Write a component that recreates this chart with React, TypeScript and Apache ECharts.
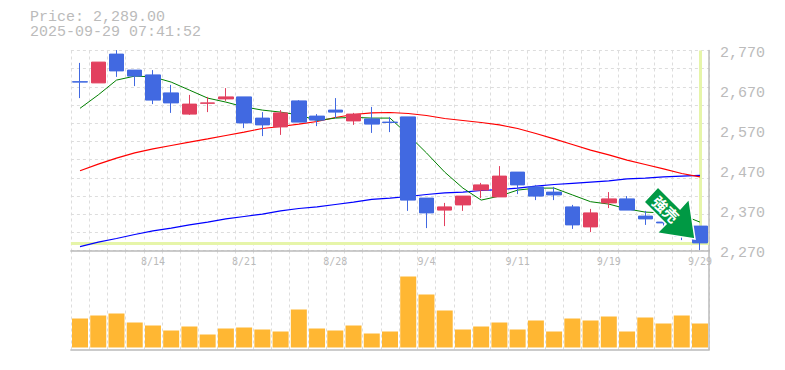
import React, { useEffect, useRef } from "react";
import * as echarts from "echarts";

const dates = ["8/7","8/8","8/12","8/13","8/14","8/15","8/18","8/19","8/20","8/21","8/22","8/25","8/26","8/27","8/28","8/29","9/1","9/2","9/3","9/4","9/5","9/8","9/9","9/10","9/11","9/12","9/16","9/17","9/18","9/19","9/22","9/24","9/25","9/26","9/29"];

// [open, close, low, high]
const candles = [
  [2692,2691,2651,2739],[2689,2741,2689,2741],[2761,2719,2704,2771],[2721,2706,2681,2721],[2709,2646,2636,2721],
  [2664,2639,2614,2684],[2611,2636,2609,2659],[2638,2639,2616,2654],[2649,2654,2644,2676],[2654,2589,2576,2654],
  [2601,2584,2556,2616],[2579,2614,2559,2621],[2644,2591,2591,2646],[2606,2596,2581,2611],[2621,2616,2601,2651],
  [2594,2611,2584,2614],[2599,2586,2564,2629],[2591,2590,2566,2604],[2604,2396,2369,2604],[2401,2364,2326,2401],
  [2371,2379,2331,2389],[2384,2406,2369,2406],[2421,2434,2401,2439],[2404,2456,2404,2481],[2466,2434,2411,2466],
  [2429,2406,2396,2434],[2416,2409,2396,2429],[2379,2334,2324,2384],[2329,2364,2316,2374],[2389,2399,2376,2416],
  [2399,2371,2371,2406],[2356,2349,2334,2369],[2341,2339,2326,2351],[2341,2306,2296,2345],[2331,2289,2271,2331],
];

const maShort = [2625.5,2659,2696,2706,2704,2691,2671,2651,2641,2629,2621,2616,2609,2595,2601,2603,2601,2601,2559,2514,2466,2426,2396,2406,2421,2426,2426,2409,2392,2386,2374,2366,2364,2359,2341];
const maMid = [2469.5,2486,2501,2514,2524,2532.5,2541,2549,2557.5,2566,2575,2580,2586,2592.5,2602.5,2610,2614,2615,2612.5,2607.5,2600,2595,2590,2584,2575,2562.5,2549,2535,2521,2509,2496,2485,2474,2462.5,2454];
const maLong = [2279.5,2291,2300,2310,2319,2326,2334,2341,2349,2355,2361,2369,2375,2379,2385,2391,2398,2401,2405,2410,2414,2416,2420,2422,2426,2431,2435,2438,2441,2444,2449,2451,2454,2456,2458];
const volumes = [29,32,34,25,22,17,21,13,19,20,18,16,38,19,17,22,14,16,71,53,37,18,21,25,18,27,16,29,27,31,16,30,24,32,24];

const priceTicks = [2270,2370,2470,2570,2670,2770];
const gridRows = ["a","b","c","d","e","f","g","h","i","j","k"];
const lastPrice = 2289;
const lastDate = "9/29";
const titleLines = ["Price: 2,289.00", "2025-09-29 07:41:52"];
const arrowLabel = "強売";

const MONO = '"Liberation Mono", monospace';
const GREY = "#bbbbbb";
const GRID = "#dddddd";

export default function App() {
  const ref = useRef<HTMLDivElement>(null);
  useEffect(() => {
    const chart = echarts.init(ref.current!, null, { renderer: "svg" });
    const gridLine = { show: true, interval: 0, lineStyle: { color: GRID, type: [3, 3], width: 1 } };
    const xBase = {
      type: "category",
      data: dates,
      boundaryGap: true,
      axisTick: { show: false },
      axisLine: { show: true, onZero: false, lineStyle: { color: GREY, width: 1.5 } },
      splitLine: gridLine,
    };
    chart.setOption({
      animation: false,
      backgroundColor: "#ffffff",
      grid: [
        { left: 70.9, width: 638.2, top: 50.5, height: 200 },
        { left: 70.9, width: 638.2, top: 250.5, height: 99 },
      ],
      xAxis: [
        {
          ...xBase,
          gridIndex: 0,
          axisLabel: {
            show: true,
            interval: (i: number) => (i - 4) % 5 === 0,
            color: GREY,
            fontFamily: '"DejaVu Sans Mono", monospace',
            fontSize: 10,
            margin: 6,
            hideOverlap: false,
            showMaxLabel: true,
          },
        },
        { ...xBase, gridIndex: 1, axisLabel: { show: false } },
      ],
      yAxis: [
        {
          type: "value",
          gridIndex: 0,
          position: "right",
          min: 2270,
          max: 2770,
          splitLine: { show: false },
          axisTick: { show: false },
          axisLine: { show: true, lineStyle: { color: GREY, width: 1.5 } },
          axisLabel: {
            color: GREY,
            fontFamily: MONO,
            fontSize: 15,
            margin: 11,
            verticalAlign: "top",
            lineHeight: 6,
            customValues: priceTicks,
            formatter: (v: number) => v.toLocaleString("en-US"),
          },
        },
        {
          type: "category",
          gridIndex: 0,
          position: "left",
          data: gridRows,
          boundaryGap: true,
          axisLine: { show: false },
          axisTick: { show: false },
          axisLabel: { show: false },
          splitLine: gridLine,
        },
        {
          type: "value",
          gridIndex: 1,
          position: "right",
          min: -2,
          max: 97,
          splitLine: { show: false },
          axisTick: { show: false },
          axisLabel: { show: false },
          axisLine: { show: true, lineStyle: { color: GREY, width: 1.5 } },
        },
      ],
      series: [
        {
          type: "line",
          data: [],
          xAxisIndex: 0,
          yAxisIndex: 0,
          z: 1,
          silent: true,
          markLine: {
            silent: true,
            z: 1,
            symbol: "none",
            label: { show: false },
            emphasis: { disabled: true },
            lineStyle: { color: "#e6f5a9", width: 3, type: "solid" },
            data: [
              [{ coord: [0, lastPrice], x: 70.9 }, { x: 709.1, coord: [34, lastPrice] }],
              [{ coord: [lastDate, 2770] }, { coord: [lastDate, lastPrice] }],
            ],
          },
        },
        { type: "line", data: maLong, xAxisIndex: 0, yAxisIndex: 0, z: 2, symbol: "none", lineStyle: { color: "#0000ff", width: 1.2 } },
        { type: "line", data: maMid, xAxisIndex: 0, yAxisIndex: 0, z: 2, symbol: "none", lineStyle: { color: "#ff0000", width: 1.2 } },
        { type: "line", data: maShort, xAxisIndex: 0, yAxisIndex: 0, z: 2, symbol: "none", lineStyle: { color: "#008000", width: 1 } },
        {
          type: "candlestick",
          data: candles,
          xAxisIndex: 0,
          yAxisIndex: 0,
          z: 3,
          barWidth: 15,
          clip: false,
          itemStyle: {
            color: "#e2405f",
            borderColor: "#e2405f",
            color0: "#4169e1",
            borderColor0: "#4169e1",
            borderWidth: 1,
          },
        },
        {
          type: "bar",
          data: volumes,
          xAxisIndex: 1,
          yAxisIndex: 2,
          barWidth: 16,
          itemStyle: { color: "#ffb733" },
        },
      ],
      graphic: [
        {
          type: "text",
          left: 30,
          top: 10,
          style: { text: titleLines.join("\n"), fill: GREY, font: `15px ${MONO}`, lineHeight: 15 },
        },
        {
          type: "polygon",
          z: 100,
          shape: {
            points: [[658, 187],[644, 202],[666, 224],[657, 233],[695, 239],[689, 199],[680, 209]],
          },
          style: { fill: "#009944", stroke: "#ffffff", lineWidth: 1.5 },
        },
        {
          type: "text",
          z: 101,
          x: 666,
          y: 209,
          rotation: -Math.PI / 4,
          style: {
            text: arrowLabel,
            fill: "#ffffff",
            font: 'bold 15px "Noto Sans CJK JP"',
            align: "center",
            verticalAlign: "middle",
          },
        },
      ],
    });
    return () => chart.dispose();
  }, []);
  return <div ref={ref} style={{ position: "absolute", left: 0, top: 0, width: 785, height: 370 }} />;
}
